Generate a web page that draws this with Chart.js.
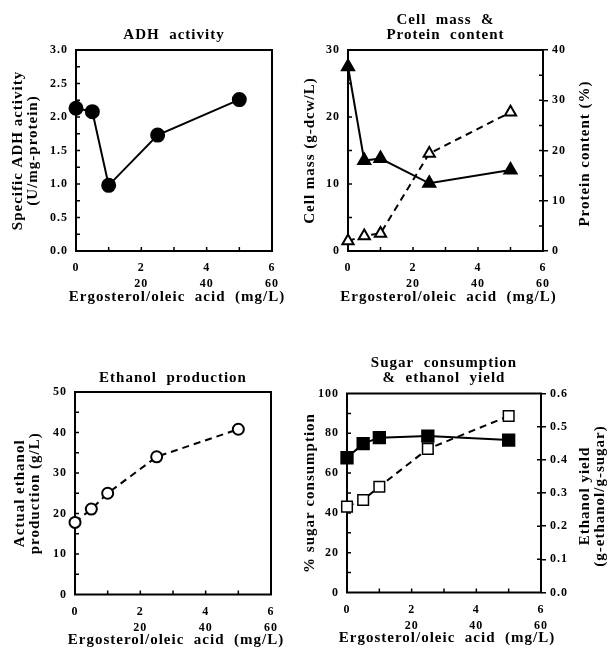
<!DOCTYPE html>
<html>
<head>
<meta charset="utf-8">
<script src="https://cdn.jsdelivr.net/npm/chart.js@4.4.1/dist/chart.umd.min.js"></script>
<style>
  html, body { margin: 0; padding: 0; background: #fff; overflow: hidden; }
  canvas { position: absolute; }
</style>
</head>
<body>
<canvas id="adh" width="300" height="320" style="left:0;top:0;width:300px;height:320px"></canvas>
<canvas id="mass" width="309" height="320" style="left:300px;top:0;width:309px;height:320px"></canvas>
<canvas id="ethanol" width="300" height="330" style="left:0;top:320px;width:300px;height:330px"></canvas>
<canvas id="sugar" width="309" height="330" style="left:300px;top:320px;width:309px;height:330px"></canvas>
<script>
// ergosterol concentration (mg/L), oleic acid is 10x
const conc = [0, 0.5, 1, 2.5, 5];
const adhActivity = [2.13, 2.08, 0.98, 1.73, 2.26];
const cellMass = [27.5, 13.5, 13.8, 10.1, 12.1];
const proteinContent = [2.0, 3.0, 3.5, 19.4, 27.6];
const ethanolProduction = [17.8, 21.1, 25.0, 34.0, 40.8];
const sugarConsumption = [67.7, 74.8, 77.8, 78.6, 76.6];
const ethanolYield = [0.259, 0.279, 0.319, 0.433, 0.532];

const xTickValues = [0, 2, 4, 6];
const xTickTop = ['0', '2', '4', '6'];
const xTickBottom = ['', '20', '40', '60'];
const xTitle = 'Ergosterol/oleic  acid  (mg/L)';

const serif = "'Liberation Serif', 'Times New Roman', serif";
Chart.defaults.font.family = serif;
Chart.defaults.color = '#000';

const tickFont = { size: 12, weight: 'bold', lineHeight: 16 / 12 };
const titleFont = { size: 15, weight: 'bold', lineHeight: 1 };

const pts = (ys) => conc.map((x, i) => ({ x: x, y: ys[i] }));

// the scanned figure has loose letter spacing
const spacing = {
  id: 'spacing',
  beforeDraw(chart) {
    chart.ctx.letterSpacing = '1px';
  }
};

// box round the plot + small inward ticks
const frame = {
  id: 'frame',
  beforeDatasetsDraw(chart, args, opts) {
    const { ctx, chartArea: a } = chart;
    ctx.save();
    ctx.strokeStyle = '#000';
    ctx.lineWidth = 2;
    ctx.strokeRect(a.left, a.top, a.right - a.left, a.bottom - a.top);
    ctx.lineWidth = 1.5;
    (opts.minor || []).forEach(([id, step]) => {
      const s = chart.scales[id];
      ctx.beginPath();
      for (let k = 1; s.min + k * step < s.max - 1e-9; k++) {
        const p = s.getPixelForValue(s.min + k * step);
        if (s.isHorizontal()) {
          ctx.moveTo(p, a.bottom); ctx.lineTo(p, a.bottom - 4);
        } else if (s.position === 'left') {
          ctx.moveTo(a.left, p); ctx.lineTo(a.left + 4, p);
        } else {
          ctx.moveTo(a.right, p); ctx.lineTo(a.right - 4, p);
        }
      }
      ctx.stroke();
    });
    ctx.restore();
  }
};

// x title (wider than the plot) and right axis title reading bottom to top
const axisText = {
  id: 'axisText',
  afterDraw(chart, args, opts) {
    const { ctx, chartArea: a } = chart;
    ctx.save();
    ctx.font = 'bold 15px ' + serif;
    ctx.fillStyle = '#000';
    ctx.textAlign = 'center';
    ctx.textBaseline = 'middle';
    if (opts.bottom) {
      ctx.fillText(opts.bottom, (a.left + a.right) / 2 + 3, a.bottom + opts.gap);
    }
    if (opts.right) {
      ctx.translate(a.right + opts.rightGap, (a.top + a.bottom) / 2 + 3);
      ctx.rotate(-Math.PI / 2);
      opts.right.forEach((line, i) => ctx.fillText(line, 0, i * 15));
    }
    ctx.restore();
  }
};

Chart.register(spacing, frame, axisText);

function xScale(height) {
  return {
    type: 'linear', min: 0, max: 6,
    afterFit: (s) => { s.height = height; },
    grid: { display: false, drawTicks: false },
    border: { display: false },
    ticks: {
      stepSize: 2, padding: 9, font: tickFont,
      callback: (v) => {
        const i = xTickValues.indexOf(v);
        return i < 0 ? '' : [xTickTop[i], xTickBottom[i]];
      }
    }
  };
}

function leftScale(max, step, width, text, titlePad, fmt) {
  return {
    min: 0, max: max,
    afterFit: (s) => { s.width = width; },
    grid: { display: false, drawTicks: false },
    border: { display: false },
    ticks: { stepSize: step, padding: 8, font: { size: 12, weight: 'bold' }, callback: fmt || ((v) => v) },
    title: { display: true, text: text, font: titleFont, padding: { top: titlePad, bottom: 0 } }
  };
}

function rightScale(max, step, width, fmt) {
  return {
    position: 'right', min: 0, max: max,
    afterFit: (s) => { s.width = width; },
    grid: { display: true, drawOnChartArea: false, drawTicks: true, tickLength: 5, color: '#000', lineWidth: 1.5 },
    border: { display: false },
    ticks: { stepSize: step, padding: 4, font: { size: 12, weight: 'bold' }, callback: fmt || ((v) => v) }
  };
}

function makeChart(id, cfg) {
  return new Chart(document.getElementById(id), {
    type: 'scatter',
    data: { datasets: cfg.datasets },
    options: {
      responsive: false,
      animation: false,
      layout: { padding: cfg.padding },
      plugins: {
        legend: { display: false },
        tooltip: { enabled: false },
        title: { display: true, text: cfg.title, fullSize: false, font: titleFont, padding: cfg.titlePad },
        frame: { minor: cfg.minor },
        axisText: { bottom: xTitle, gap: 46, right: cfg.right, rightGap: cfg.rightGap }
      },
      scales: cfg.scales
    }
  });
}

const solid = { showLine: true, clip: false, borderColor: '#000', borderWidth: 2, pointBorderColor: '#000' };
const dashed = { showLine: true, clip: false, borderColor: '#000', borderWidth: 2, borderDash: [7, 5], pointBorderColor: '#000' };

makeChart('adh', {
  title: 'ADH  activity',
  titlePad: { top: 27.5, bottom: 7.5 },
  padding: { left: 0, top: 0, right: 28, bottom: 0 },
  minor: [['x', 1], ['y', 0.25]],
  datasets: [
    { ...solid, data: pts(adhActivity), pointStyle: 'circle', pointRadius: 6.5, pointBackgroundColor: '#000' }
  ],
  scales: {
    x: xScale(69),
    y: leftScale(3, 0.5, 76, ['Specific ADH activity', '(U/mg-protein)'], 10.5, (v) => v.toFixed(1))
  }
});

makeChart('mass', {
  title: ['Cell  mass  &', 'Protein  content'],
  titlePad: { top: 12.5, bottom: 7.5 },
  padding: 0,
  minor: [['x', 1], ['y', 5], ['y2', 5]],
  right: ['Protein content (%)'],
  rightGap: 42,
  datasets: [
    { ...solid, data: pts(cellMass), yAxisID: 'y', pointStyle: 'triangle', pointRadius: 7, pointBackgroundColor: '#000' },
    { ...dashed, data: pts(proteinContent), yAxisID: 'y2', pointStyle: 'triangle', pointRadius: 6.5, pointBorderWidth: 2, pointBackgroundColor: '#fff' }
  ],
  scales: {
    x: xScale(69),
    y: leftScale(30, 10, 48, 'Cell mass (g-dcw/L)', 2.5),
    y2: rightScale(40, 10, 66)
  }
});

makeChart('ethanol', {
  title: 'Ethanol  production',
  titlePad: { top: 50.5, bottom: 6.5 },
  padding: { left: 0, top: 0, right: 29, bottom: 0 },
  minor: [['x', 1], ['y', 5]],
  datasets: [
    { ...dashed, data: pts(ethanolProduction), pointStyle: 'circle', pointRadius: 5.5, pointBorderWidth: 2, pointBackgroundColor: '#fff' }
  ],
  scales: {
    x: xScale(55.5),
    y: leftScale(50, 10, 75, ['Actual ethanol', 'production (g/L)'], 12.5)
  }
});

makeChart('sugar', {
  title: ['Sugar  consumption', '&  ethanol  yield'],
  titlePad: { top: 35.5, bottom: 8 },
  padding: 0,
  minor: [['x', 1], ['y', 10], ['y2', 0.1]],
  right: ['Ethanol yield', '(g-ethanol/g-sugar)'],
  rightGap: 44,
  datasets: [
    { ...solid, data: pts(sugarConsumption), yAxisID: 'y', pointStyle: 'rect', pointRadius: 8, pointBackgroundColor: '#000' },
    { ...dashed, data: pts(ethanolYield), yAxisID: 'y2', pointStyle: 'rect', pointRadius: 7.5, pointBorderWidth: 1.5, pointBackgroundColor: '#fff' }
  ],
  scales: {
    x: xScale(57.5),
    y: leftScale(100, 20, 47, '% sugar consumption', 2.5),
    y2: rightScale(0.6, 0.1, 68, (v) => v.toFixed(1))
  }
});
</script>
</body>
</html>
